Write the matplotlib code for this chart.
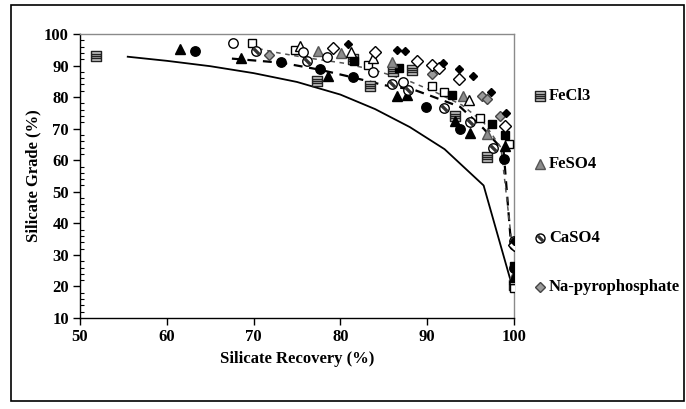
import matplotlib
matplotlib.use("Agg")
import matplotlib.pyplot as plt
from matplotlib.path import Path
from matplotlib.lines import Line2D
from matplotlib.patches import Rectangle
from matplotlib.ticker import MultipleLocator

plt.rcParams["font.family"] = ["Liberation Serif", "DejaVu Serif"]
plt.rcParams["font.weight"] = "bold"

# ---- reference curve (no depressant) ----
base_x = [55.5, 60, 65, 70, 75, 80, 84, 88, 92, 96.5, 99.8]
base_y = [92.8, 91.5, 89.8, 87.6, 84.8, 80.8, 76.2, 70.5, 63.5, 52, 20]

# ---- dashed trend lines ----
trend1_x = [67.5, 73.2, 77.6, 81.5, 85, 88.5, 90.5, 93.8, 96.5, 98.8, 99.7]
trend1_y = [92.2, 90.9, 88.7, 86.2, 83.8, 82.3, 80.3, 76.9, 70, 63, 32]
trend2_x = [69.5, 72.5, 76, 80.3, 84, 88, 91, 94, 96.5, 98.5, 99.7]
trend2_y = [96, 94.2, 92.5, 90.8, 88.5, 85, 81.5, 77.5, 72, 64, 35]

# ---- FeCl3 ----
fecl3_black_x = [81.6, 86.7, 92.8, 97.5, 99.0, 100]
fecl3_black_y = [91.5, 89.2, 80.7, 71.5, 68.0, 26.5]
fecl3_open_x = [69.8, 74.8, 83.2, 90.6, 91.9, 96.1, 99.4, 100]
fecl3_open_y = [97.2, 95.0, 90.2, 83.5, 81.7, 73.5, 65.0, 19.5]
fecl3_hatch_x = [51.8, 77.3, 81.5, 83.4, 86.1, 88.3, 93.2, 96.9, 100]
fecl3_hatch_y = [93.0, 85.2, 92.0, 83.5, 88.2, 88.5, 74.0, 61.0, 20.5]

# ---- FeSO4 ----
feso4_black_x = [61.5, 68.6, 78.6, 86.5, 87.7, 93.2, 94.9, 99.0, 100]
feso4_black_y = [95.3, 92.5, 86.6, 80.5, 80.8, 72.5, 68.7, 64.5, 23.0]
feso4_open_x = [75.3, 81.2, 83.7, 94.8, 100]
feso4_open_y = [96.2, 94.4, 92.5, 79.0, 22.5]
feso4_gray_x = [77.4, 80.1, 85.9, 94.1, 96.9, 100]
feso4_gray_y = [94.5, 94.0, 91.2, 80.2, 68.3, 23.5]

# ---- CaSO4 ----
caso4_black_x = [63.2, 73.2, 77.6, 81.5, 89.9, 93.8, 98.8, 100]
caso4_black_y = [94.6, 91.0, 88.8, 86.3, 77.0, 70.0, 60.3, 26.0]
caso4_open_x = [67.6, 75.7, 78.4, 83.8, 87.2, 100]
caso4_open_y = [97.2, 94.3, 92.6, 88.0, 84.8, 33.0]
caso4_hatch_x = [70.3, 76.1, 85.9, 87.8, 91.9, 94.9, 97.6, 100]
caso4_hatch_y = [94.5, 91.3, 84.0, 82.2, 76.5, 72.0, 64.0, 34.5]

# ---- Na-pyrophosphate ----
nap_black_x = [80.9, 86.5, 87.4, 91.8, 93.7, 95.3, 97.4, 99.1, 100]
nap_black_y = [96.8, 94.8, 94.6, 90.8, 89.0, 86.8, 81.5, 75.0, 34.5]
nap_open_x = [79.1, 84.0, 88.8, 90.6, 91.4, 93.7, 99.0, 100]
nap_open_y = [95.6, 94.2, 91.3, 90.2, 89.3, 85.6, 71.0, 33.0]
nap_gray_x = [71.8, 90.5, 96.3, 96.9, 98.4, 100]
nap_gray_y = [93.4, 87.2, 80.2, 79.3, 74.0, 33.8]

legend_names = ["FeCl3", "FeSO4", "CaSO4", "Na-pyrophosphate"]


def striped_square():
    verts = [(-1, -1), (1, -1), (1, 1), (-1, 1), (-1, -1)]
    codes = [Path.MOVETO, Path.LINETO, Path.LINETO, Path.LINETO, Path.CLOSEPOLY]
    for yy in (-0.45, 0.0, 0.45):
        verts += [(-1, yy), (1, yy)]
        codes += [Path.MOVETO, Path.LINETO]
    return Path(verts, codes)


def band_poly():
    # diagonal band running from upper-left to lower-right of a unit circle
    poly = [(-0.85, 0.35), (0.35, -0.85), (0.85, -0.35), (-0.35, 0.85)]
    verts = poly + [poly[0]]
    codes = [Path.MOVETO, Path.LINETO, Path.LINETO, Path.LINETO, Path.CLOSEPOLY]
    # invisible corners keep the marker scaled like a unit circle
    verts += [(-1, -1), (-1, -1), (1, 1), (1, 1)]
    codes += [Path.MOVETO, Path.LINETO, Path.MOVETO, Path.LINETO]
    return Path(verts, codes)


SQ_STRIPE = striped_square()
BAND = band_poly()

fig = plt.figure(figsize=(6.86, 4.09), dpi=100)
ax = fig.add_axes([80 / 686, 1 - 318 / 409, (514 - 80) / 686, (318 - 34) / 409])

ax.plot(base_x, base_y, color="black", lw=1.3, zorder=2)
ax.plot(trend1_x, trend1_y, color="black", lw=1.6, dashes=(4, 3), zorder=2)
ax.plot(trend2_x, trend2_y, color="#555555", lw=1.1, dashes=(3, 3), zorder=2)

kw = dict(ls="none", zorder=3, mew=1.0)
# FeCl3 squares
ax.plot(fecl3_hatch_x, fecl3_hatch_y, marker=SQ_STRIPE, ms=6.5, mfc="#c8c8c8", mec="#222222", **kw)
ax.plot(fecl3_open_x, fecl3_open_y, marker="s", ms=6.3, mfc="white", mec="black", **kw)
ax.plot(fecl3_black_x, fecl3_black_y, marker="s", ms=6.3, mfc="black", mec="black", **kw)
# FeSO4 triangles
ax.plot(feso4_gray_x, feso4_gray_y, marker="^", ms=7, mfc="#8c8c8c", mec="#555555", **kw)
ax.plot(feso4_open_x, feso4_open_y, marker="^", ms=7, mfc="white", mec="black", **kw)
ax.plot(feso4_black_x, feso4_black_y, marker="^", ms=7, mfc="black", mec="black", **kw)
# CaSO4 circles
ax.plot(caso4_hatch_x, caso4_hatch_y, marker="o", ms=6.8, mfc="white", mec="black", **kw)
ax.plot(caso4_hatch_x, caso4_hatch_y, marker=BAND, ms=6.8, mfc="#333333", mec="none",
        ls="none", zorder=3)
ax.plot(caso4_open_x, caso4_open_y, marker="o", ms=6.8, mfc="white", mec="black", **kw)
ax.plot(caso4_black_x, caso4_black_y, marker="o", ms=6.8, mfc="black", mec="black", **kw)
# Na-pyrophosphate diamonds
ax.plot(nap_gray_x, nap_gray_y, marker="D", ms=5.5, mfc="#9a9a9a", mec="#444444", **kw)
ax.plot(nap_open_x, nap_open_y, marker="D", ms=6, mfc="white", mec="black", **kw)
ax.plot(nap_black_x, nap_black_y, marker="D", ms=3.8, mfc="black", mec="black", **kw)

ax.set_xlim(50, 100)
ax.set_ylim(10, 100)
ax.set_xticks(range(50, 101, 10))
ax.set_yticks(range(10, 101, 10))
ax.yaxis.set_minor_locator(MultipleLocator(2))
ax.tick_params(axis="both", which="major", direction="out", length=5, width=1,
               labelsize=12, pad=3)
ax.tick_params(axis="y", which="minor", direction="in", length=3, width=0.8)
for lab in ax.get_xticklabels() + ax.get_yticklabels():
    lab.set_fontweight("bold")

for s in ("top", "right"):
    ax.spines[s].set_color("#8a8a8a")
    ax.spines[s].set_linewidth(1.0)
for s in ("left", "bottom"):
    ax.spines[s].set_color("black")
    ax.spines[s].set_linewidth(1.0)

ax.set_xlabel("Silicate Recovery (%)", fontsize=12, fontweight="bold", labelpad=4)
ax.set_ylabel("Silicate Grade (%)", fontsize=12, fontweight="bold", labelpad=2)

# legend entries placed to the right of the plot
leg_y = [96, 164, 238, 287]
leg_markers = [
    dict(marker=SQ_STRIPE, ms=6.5, mfc="#c8c8c8", mec="#222222"),
    dict(marker="^", ms=6.5, mfc="#8c8c8c", mec="#555555"),
    dict(marker="o", ms=6.5, mfc="white", mec="black"),
    dict(marker="D", ms=5, mfc="#9a9a9a", mec="#444444"),
]
for name, py, mk in zip(legend_names, leg_y, leg_markers):
    yf = 1 - py / 409
    fig.add_artist(Line2D([540 / 686], [yf], transform=fig.transFigure, ls="none",
                          mew=1.0, **mk))
    if mk["marker"] == "o":
        fig.add_artist(Line2D([540 / 686], [yf], transform=fig.transFigure, ls="none",
                              marker=BAND, ms=6.5, mfc="#333333", mec="none"))
    fig.text(549 / 686, yf, name, fontsize=12, fontweight="bold", va="center", ha="left")

fig.add_artist(Rectangle((11 / 686, 1 - 401 / 409), (684 - 11) / 686, (401 - 5) / 409,
                         transform=fig.transFigure, fill=False, ec="black", lw=1.2))

fig.savefig("out.png", dpi=100)
